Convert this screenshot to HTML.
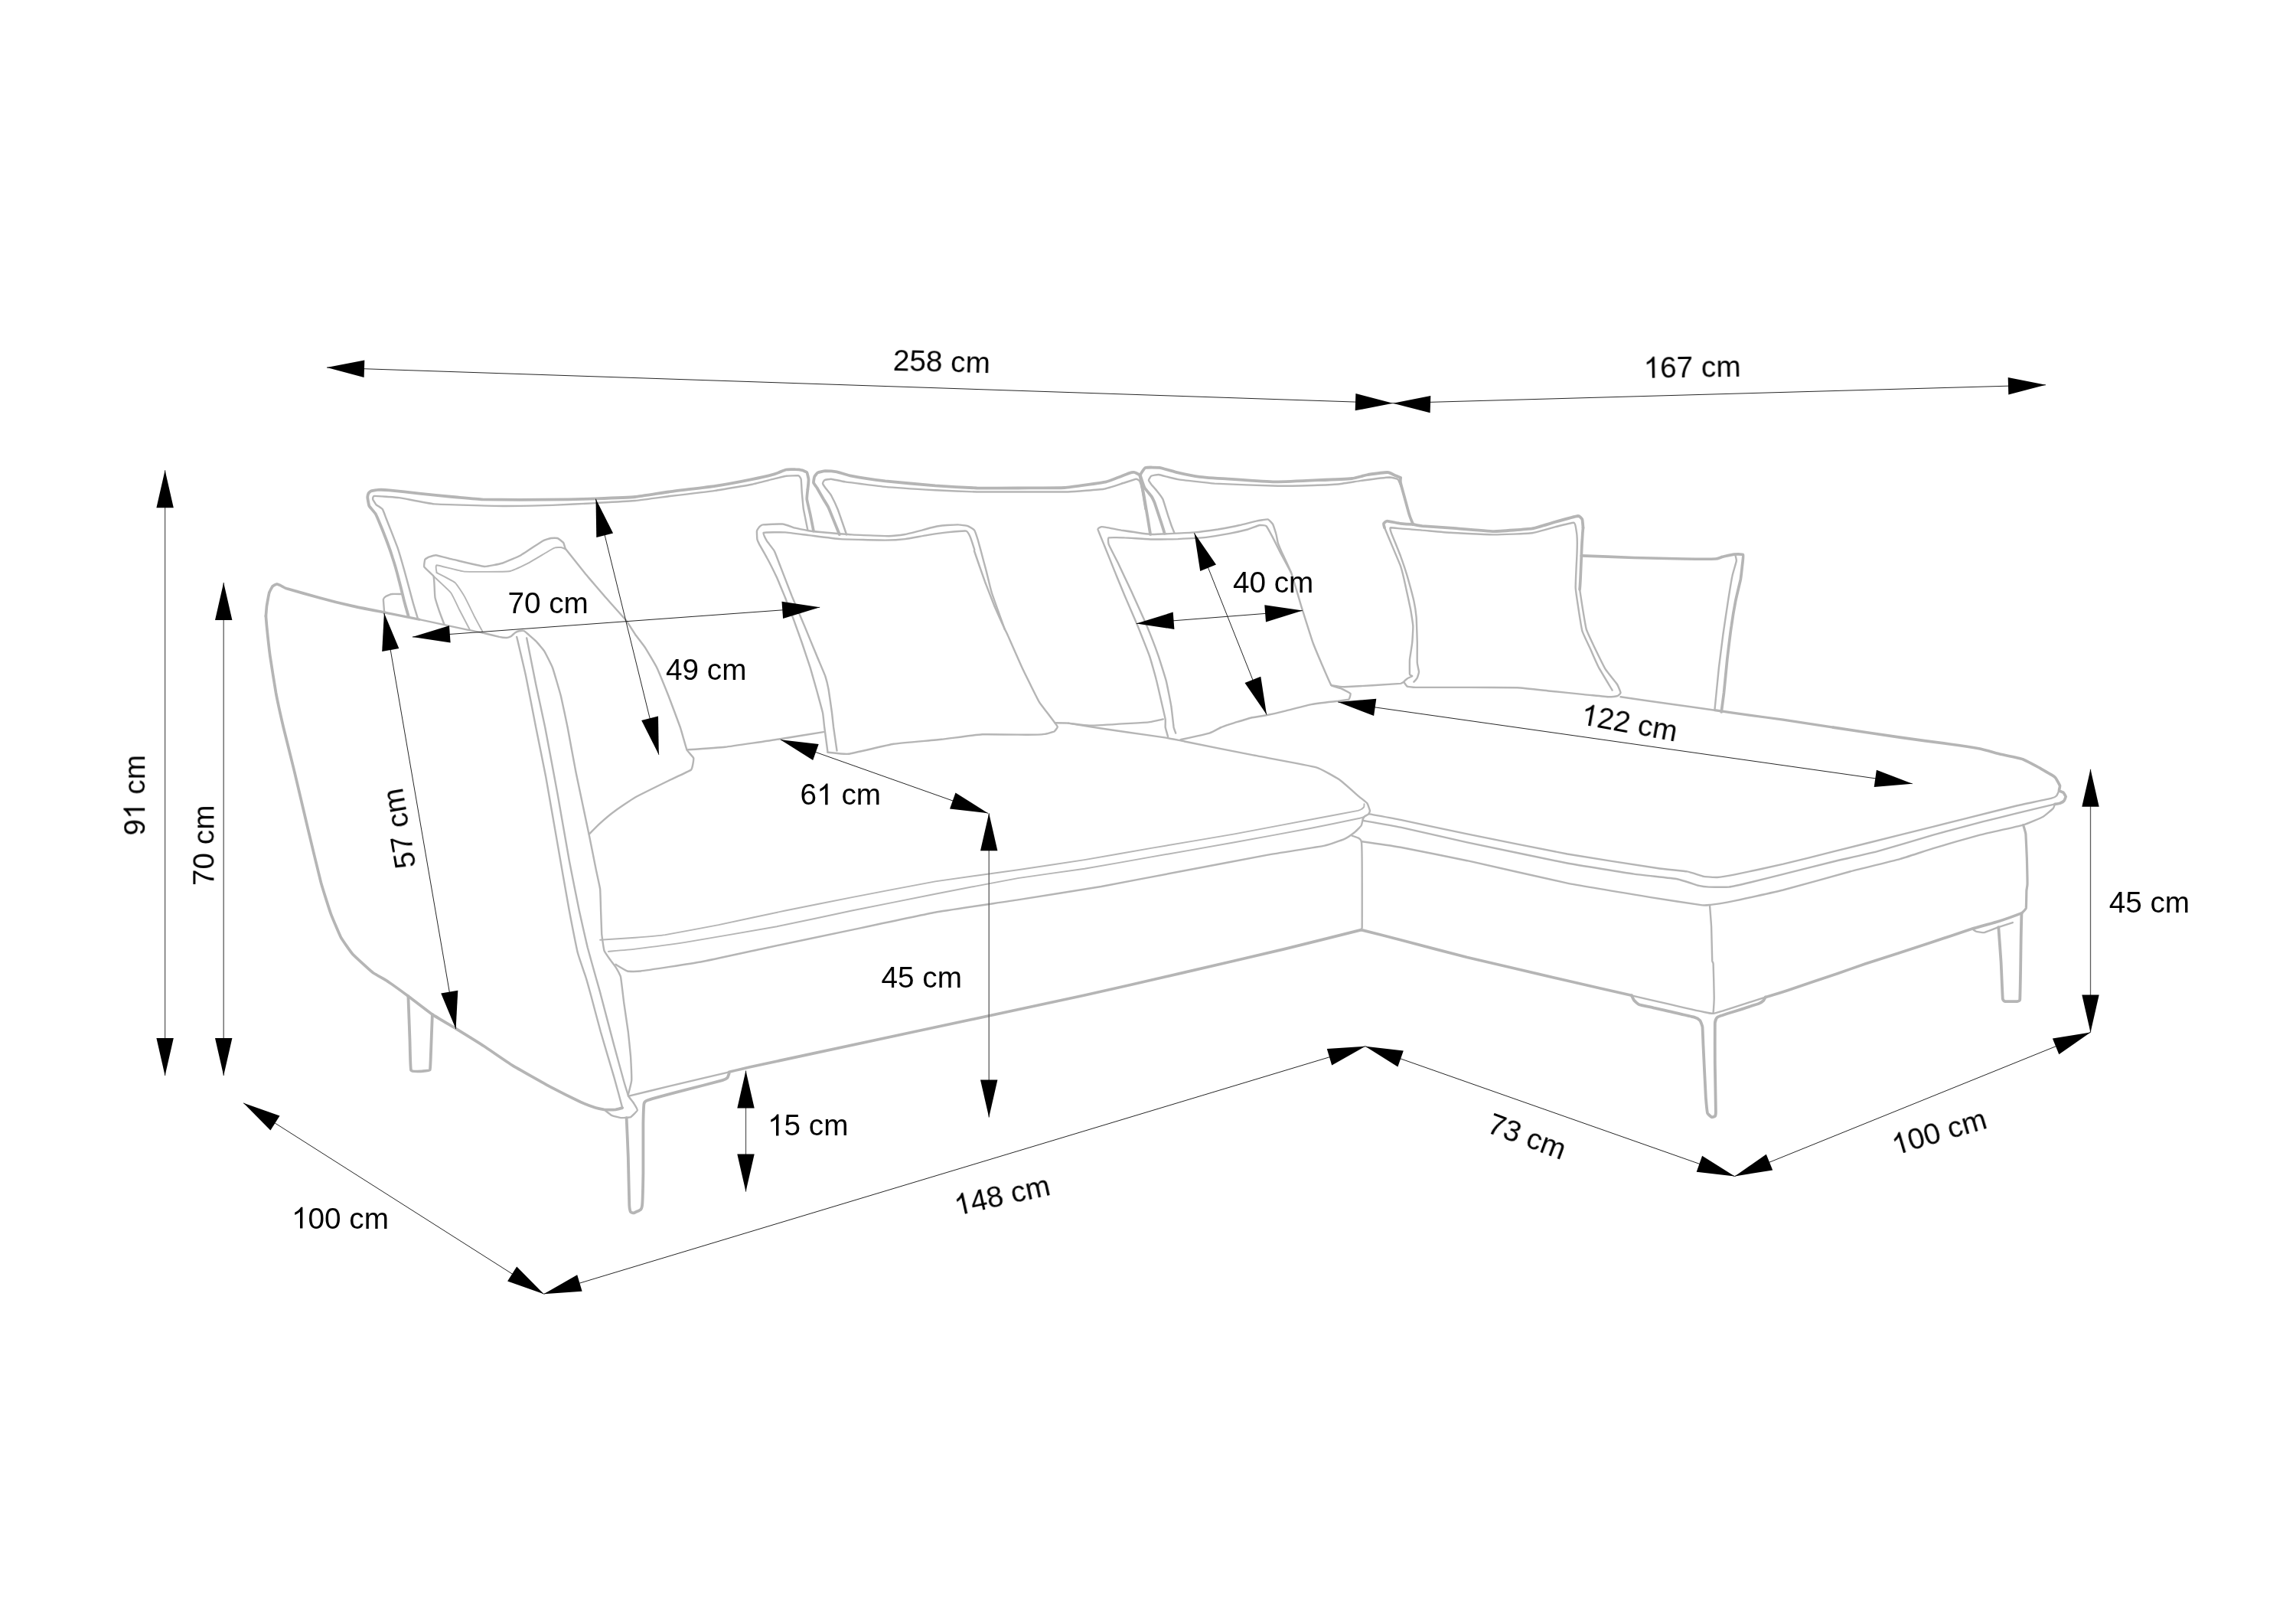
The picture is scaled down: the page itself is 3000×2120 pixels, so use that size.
<!DOCTYPE html>
<html><head><meta charset="utf-8"><title>Sofa dimensions</title>
<style>
html,body{margin:0;padding:0;background:#fff;}
body{width:3000px;height:2120px;overflow:hidden;}
svg{display:block;}
text{font-family:"Liberation Sans",sans-serif;font-size:38.7px;fill:#000;}
</style></head><body>
<svg width="3000" height="2120" viewBox="0 0 3000 2120">
<rect width="3000" height="2120" fill="#fff"/>
<g fill="none" stroke="#b5b5b5" stroke-width="1.9" stroke-linejoin="round" stroke-linecap="round">
<path d="M784.1 1227.7 C786.7 1227.5 825.0 1225.2 830.0 1224.8 C835.0 1224.4 862.8 1222.1 869.2 1221.1 C875.6 1220.1 929.7 1209.9 938.9 1208.1 C948.0 1206.2 1015.8 1191.6 1026.0 1189.5 C1036.2 1187.5 1101.7 1174.3 1113.1 1172.1 C1124.5 1169.9 1209.3 1153.5 1222.0 1151.4 C1234.6 1149.3 1318.6 1137.8 1330.0 1136.2 C1341.4 1134.5 1406.9 1124.8 1417.1 1123.1 C1427.3 1121.5 1492.8 1109.9 1504.2 1107.9 C1515.6 1105.9 1600.4 1091.7 1613.1 1089.4 C1625.8 1087.1 1712.6 1070.5 1722.0 1068.7 C1731.4 1066.9 1770.8 1059.7 1774.3 1058.9 C1777.7 1058.1 1781.4 1055.0 1781.9 1054.5 C1782.4 1054.0 1782.5 1050.4 1782.5 1050.2"/>
<path d="M794.9 1242.9 C797.0 1242.7 824.1 1240.3 830.0 1239.6 C835.9 1238.9 884.5 1232.6 895.3 1230.9 C906.1 1229.2 1002.4 1212.6 1015.1 1210.2 C1027.8 1207.8 1101.0 1192.0 1113.1 1189.5 C1125.2 1187.1 1209.3 1170.2 1222.0 1167.8 C1234.6 1165.3 1318.6 1149.0 1330.0 1147.1 C1341.4 1145.2 1406.9 1136.3 1417.1 1134.7 C1427.3 1133.1 1492.8 1121.4 1504.2 1119.4 C1515.6 1117.4 1600.9 1102.5 1613.1 1100.3 C1625.3 1098.1 1703.9 1083.6 1713.3 1081.8 C1722.7 1079.9 1770.2 1070.2 1774.3 1069.3 C1777.8 1068.6 1782.5 1066.7 1783.0 1066.5"/>
<path d="M570.6 748.1 C570.6 747.5 568.5 738.4 570.6 738.3 C572.7 738.2 601.0 746.1 606.6 746.6 C612.1 747.0 660.5 747.0 665.4 746.3 C670.2 745.7 686.5 737.5 689.3 736.1 C692.1 734.7 711.2 723.2 713.3 722.0 C715.4 720.7 724.1 715.8 725.3 715.4 C726.4 715.0 732.0 714.9 732.9 715.0 C733.7 715.1 739.0 717.4 739.4 717.6"/>
<path d="M566.3 752.4 C567.6 753.7 587.2 771.7 589.1 774.2 C591.1 776.8 598.6 793.1 600.0 796.0 C601.5 798.9 613.4 821.6 614.2 823.2"/>
<path d="M570.6 748.1 C572.0 748.8 592.5 759.4 594.6 761.1 C596.7 762.9 605.1 776.0 606.6 778.6 C608.0 781.1 618.3 802.0 619.6 804.7 C621.0 807.4 629.5 823.2 630.1 824.3"/>
</g>
<g fill="none" stroke="#b5b5b5" stroke-width="2.4" stroke-linejoin="round" stroke-linecap="round">
<path d="M545.6 806.9 C545.2 805.6 539.9 788.3 539.1 785.1 C538.2 781.9 531.5 756.5 530.3 752.4 C529.2 748.4 521.0 719.9 519.5 715.4 C517.9 711.0 505.4 679.1 504.2 676.2 C503.1 673.3 500.6 666.3 499.9 665.3 C499.1 664.3 491.9 659.6 491.1 658.8 C490.4 658.0 487.4 652.9 487.2 652.3 C487.1 651.6 487.1 648.0 489.0 647.9 C491.0 647.8 517.1 649.5 521.6 650.1 C526.2 650.7 559.5 657.7 567.4 658.4 C575.2 659.0 647.6 660.9 656.7 661.0 C665.7 661.1 714.9 660.1 722.0 659.9 C729.1 659.7 772.3 657.4 778.6 657.1 C784.9 656.7 824.5 654.5 830.0 654.0 C835.5 653.5 867.5 649.1 873.6 648.3 C879.7 647.6 928.2 641.9 934.5 640.9 C940.9 640.0 978.0 633.6 982.4 632.7 C986.9 631.8 1008.1 626.3 1010.7 625.7 C1013.4 625.1 1025.2 622.0 1027.1 621.8 C1029.0 621.5 1042.3 621.1 1043.4 621.3 C1044.6 621.6 1046.4 624.8 1046.7 626.1 C1046.9 627.4 1047.6 641.3 1047.8 643.6 C1048.0 645.8 1049.5 662.5 1049.9 665.3 C1050.4 668.2 1055.1 691.0 1055.4 692.6"/>
<path d="M502.0 798.2 C502.0 797.3 500.8 784.0 500.9 782.9 C501.1 781.8 503.6 779.4 504.2 779.0 C504.9 778.6 510.6 776.1 511.8 776.0 C513.0 775.8 524.1 776.0 524.9 776.0"/>
<path d="M547.8 809.1 C549.8 809.5 578.8 815.9 582.6 816.7 C586.4 817.5 610.3 822.6 613.1 823.2 C615.9 823.8 629.5 826.3 630.5 826.5"/>
<path d="M630.5 826.5 C631.8 826.8 650.5 831.5 652.3 831.9 C654.1 832.3 661.2 833.1 662.1 833.0 C663.0 833.0 666.9 831.7 667.5 831.3 C668.2 830.9 672.4 826.9 673.0 826.5 C673.6 826.1 677.7 824.4 678.4 824.3 C679.1 824.2 683.7 823.5 685.0 824.3 C686.2 825.1 698.7 835.8 700.2 837.4 C701.7 838.9 709.8 848.4 711.1 850.4 C712.4 852.5 720.7 868.8 722.0 872.2 C723.3 875.6 731.7 904.7 732.9 909.2 C734.0 913.8 740.4 944.1 741.6 950.0 C742.7 955.8 750.8 1000.5 752.5 1008.8 C754.1 1017.1 768.4 1084.2 769.9 1091.6 C771.4 1098.9 777.8 1131.0 778.6 1135.1 C779.4 1139.2 783.7 1158.1 784.1 1161.2 C784.4 1164.4 785.0 1186.1 785.1 1189.5 C785.3 1193.0 786.0 1217.0 786.2 1220.0 C786.5 1223.1 788.8 1239.8 789.5 1241.8 C790.2 1243.8 797.3 1253.6 798.2 1254.9 C799.1 1256.1 804.0 1262.3 804.7 1263.6 C805.5 1264.8 810.4 1273.4 811.0 1276.1 C811.6 1278.9 814.8 1306.8 815.4 1311.0 C815.9 1315.2 820.3 1343.9 820.8 1348.0 C821.3 1352.1 823.8 1377.0 824.1 1380.7 C824.3 1384.3 825.4 1408.3 825.2 1411.1 C825.0 1414.0 821.1 1428.6 820.8 1429.7"/>
<path d="M675.2 831.9 C675.9 834.9 685.7 876.2 687.1 883.1 C688.6 890.0 698.7 942.2 700.2 950.0 C701.7 957.7 711.6 1006.4 713.3 1015.3 C714.9 1024.2 726.7 1092.3 728.5 1102.4 C730.3 1112.6 742.2 1181.3 743.8 1189.5 C745.3 1197.8 753.4 1238.9 754.7 1244.0 C755.9 1249.1 764.5 1273.4 765.5 1276.7 C766.6 1279.9 770.9 1295.8 772.1 1300.0 C773.2 1304.1 783.1 1341.8 784.9 1348.0 C786.6 1354.2 800.6 1401.0 802.3 1406.8 C804.0 1412.6 812.6 1444.7 813.2 1447.1"/>
<path d="M688.2 833.4 C688.9 837.0 698.8 887.2 700.2 894.0 C701.6 900.8 710.5 941.6 712.2 950.0 C713.8 958.3 726.7 1026.9 728.5 1037.1 C730.4 1047.3 742.1 1115.3 743.8 1124.2 C745.4 1133.1 755.4 1182.9 756.8 1189.5 C758.2 1196.2 766.4 1232.4 767.7 1237.5 C769.0 1242.5 777.6 1273.0 778.6 1276.7 C779.6 1280.3 783.8 1294.8 785.1 1300.0 C786.5 1305.1 800.5 1358.8 802.3 1365.4 C804.1 1372.0 814.3 1409.5 815.4 1413.3 C816.4 1417.1 820.5 1429.7 820.8 1430.7"/>
<path d="M789.2 1449.3 C789.8 1449.7 797.8 1456.2 799.0 1456.9 C800.3 1457.5 809.5 1460.0 811.0 1460.1 C812.5 1460.3 822.8 1459.6 824.1 1459.1 C825.3 1458.5 832.5 1451.4 832.8 1450.3 C833.0 1449.3 829.1 1442.7 828.4 1441.6 C827.8 1440.6 822.3 1433.6 821.9 1432.9 C821.5 1432.2 820.9 1429.9 820.8 1429.7"/>
<path d="M804.5 1259.8 C805.4 1260.3 817.8 1268.0 819.7 1268.5 C821.6 1269.0 831.6 1269.2 837.1 1268.5 C842.7 1267.8 905.8 1258.3 915.5 1256.5 C925.3 1254.7 992.7 1239.9 1004.2 1237.5 C1015.7 1235.0 1100.4 1217.3 1113.1 1214.6 C1125.8 1211.9 1209.3 1194.0 1222.0 1191.7 C1234.6 1189.4 1317.3 1177.4 1330.0 1175.4 C1342.7 1173.4 1426.2 1160.2 1438.9 1158.0 C1451.6 1155.7 1535.1 1139.7 1547.8 1137.3 C1560.5 1134.9 1646.0 1118.5 1656.7 1116.6 C1667.3 1114.7 1724.9 1105.8 1730.7 1104.6 C1736.5 1103.4 1754.5 1096.9 1756.8 1095.9 C1759.1 1094.9 1768.6 1088.2 1769.9 1087.2 C1771.2 1086.2 1778.0 1079.5 1778.6 1078.5 C1779.2 1077.5 1780.7 1070.3 1780.8 1069.8"/>
<path d="M1395.6 944.6 C1397.2 944.9 1418.8 948.4 1423.2 949.1 C1427.6 949.8 1465.7 955.5 1471.5 956.3 C1477.4 957.2 1518.8 962.9 1523.3 963.6 C1527.7 964.3 1541.3 967.2 1547.8 968.5 C1554.3 969.8 1624.8 984.0 1634.9 985.9 C1644.9 987.9 1713.1 1000.4 1719.8 1002.3 C1726.5 1004.2 1747.1 1016.4 1750.3 1018.6 C1753.5 1020.8 1772.2 1037.5 1774.3 1039.3 C1776.3 1041.1 1785.3 1047.9 1786.2 1049.1 C1787.1 1050.2 1789.8 1058.1 1789.9 1058.9 C1790.1 1059.7 1788.8 1062.8 1788.4 1063.2 C1788.0 1063.7 1783.4 1066.1 1783.0 1066.5 C1782.5 1066.9 1780.9 1069.6 1780.8 1069.8"/>
<path d="M580.4 815.6 C580.1 814.6 574.6 800.2 573.9 798.2 C573.2 796.1 568.8 782.9 568.5 780.7 C568.1 778.6 567.5 762.8 567.4 761.1 C567.2 759.5 567.0 753.6 566.3 752.4 C565.5 751.2 554.9 741.7 554.3 740.5 C553.7 739.2 555.0 731.4 555.4 730.7 C555.8 729.9 560.0 727.7 560.8 727.4 C561.7 727.1 567.8 725.0 569.5 725.2 C571.3 725.4 587.6 729.8 591.3 730.7 C595.0 731.5 628.9 739.7 632.7 740.0 C636.5 740.3 653.9 736.3 656.7 735.5 C659.4 734.6 677.6 726.9 680.6 725.2 C683.7 723.5 706.6 708.0 708.9 706.7 C711.2 705.4 718.7 703.2 719.8 703.0 C721.0 702.8 727.6 702.7 728.5 703.0 C729.5 703.3 735.6 708.2 736.1 708.9 C736.7 709.6 738.1 714.9 738.3 715.4 C738.5 715.9 738.8 716.8 739.4 717.6 C741.0 719.6 762.5 746.6 765.5 750.3 C768.6 753.9 788.6 777.3 791.7 780.7 C794.7 784.2 815.6 807.4 817.8 810.1 C820.0 812.9 828.5 826.6 830.0 828.7 C831.5 830.8 841.4 843.5 843.1 846.1 C844.7 848.6 856.5 868.5 858.3 872.2 C860.1 875.9 871.8 904.7 873.6 909.2 C875.3 913.8 887.4 945.9 888.8 950.0 C890.2 954.0 896.5 977.0 897.5 979.4 C898.5 981.8 905.9 988.8 906.2 990.3 C906.5 991.8 904.9 1003.8 903.0 1005.5 C901.0 1007.2 877.8 1017.6 873.6 1019.7 C869.3 1021.8 834.1 1039.1 830.0 1041.5 C825.9 1043.8 805.3 1057.9 802.6 1060.0 C799.8 1062.0 784.9 1074.6 783.0 1076.3 C781.1 1078.0 770.7 1088.6 769.9 1089.4"/>
<path d="M897.5 979.4 C900.4 979.2 940.5 976.5 947.6 975.7 C954.7 974.9 1012.0 966.4 1019.5 965.2 C1027.0 964.1 1072.8 956.6 1076.1 956.1"/>
<path d="M1081.5 982.7 C1081.3 980.8 1077.6 953.0 1077.2 950.0 C1076.8 947.0 1075.6 933.8 1075.0 931.0 C1074.4 928.3 1068.3 906.1 1067.4 902.7 C1066.4 899.3 1059.8 875.9 1058.7 872.2 C1057.5 868.5 1049.0 843.2 1047.8 839.5 C1046.5 835.9 1038.2 812.5 1036.9 809.1 C1035.6 805.6 1027.3 783.9 1026.0 780.7 C1024.7 777.6 1016.5 757.7 1015.1 754.6 C1013.7 751.6 1003.4 731.0 1002.0 728.5 C1000.7 725.9 993.0 712.5 992.2 711.1 C991.5 709.7 989.6 705.5 989.4 704.5 C989.2 703.5 988.8 694.6 989.0 693.6 C989.1 692.7 991.8 688.7 992.2 688.2 C992.7 687.7 994.8 685.6 996.6 685.4 C998.4 685.1 1020.2 684.2 1022.7 684.5 C1025.2 684.7 1037.1 689.2 1039.1 689.7 C1041.0 690.2 1054.1 692.8 1056.5 693.2 C1058.9 693.6 1077.1 695.5 1080.4 695.8 C1083.7 696.1 1108.4 698.2 1113.1 698.4 C1117.8 698.7 1156.9 700.2 1161.0 700.2 C1165.1 700.1 1180.2 698.4 1182.8 698.0 C1185.3 697.6 1202.2 693.2 1204.6 692.6 C1207.0 691.9 1222.3 687.9 1224.2 687.5 C1226.1 687.2 1235.6 686.1 1237.2 686.0 C1238.9 685.9 1250.9 685.3 1252.5 685.4 C1254.1 685.4 1263.2 686.7 1264.5 687.1 C1265.7 687.5 1272.4 691.5 1273.2 692.6 C1273.9 693.6 1277.0 702.9 1277.5 704.5 C1278.0 706.1 1281.1 717.6 1281.8 720.0 C1282.4 722.4 1287.8 742.8 1288.7 745.9 C1289.5 749.0 1294.5 770.2 1295.6 773.5 C1296.6 776.8 1304.9 800.0 1305.9 802.8 C1306.9 805.6 1312.4 820.7 1312.8 821.8"/>
<path d="M1312.8 821.8 C1313.0 822.2 1315.0 825.9 1316.3 828.7 C1317.7 831.8 1334.5 870.1 1337.0 875.3 C1339.4 880.4 1355.8 913.4 1357.7 916.7 C1359.5 919.9 1366.8 928.9 1368.0 930.5 C1369.2 932.1 1377.6 943.2 1378.4 944.3 C1379.2 945.4 1381.9 948.8 1381.8 949.4 C1381.8 950.1 1378.5 954.9 1377.5 955.5 C1376.5 956.0 1366.6 958.7 1364.6 958.9 C1362.5 959.2 1346.9 959.8 1342.1 959.8 C1337.4 959.8 1290.0 958.9 1283.5 959.3 C1276.9 959.6 1236.8 965.1 1230.0 965.8 C1223.2 966.6 1174.6 970.7 1167.5 971.8 C1160.5 972.9 1113.8 984.2 1108.7 984.8 C1103.7 985.5 1083.1 982.8 1081.5 982.7"/>
<path d="M1093.5 980.5 C1093.2 978.7 1089.5 952.9 1089.1 950.0 C1088.8 947.1 1087.3 933.9 1087.0 931.0 C1086.6 928.1 1083.1 903.3 1082.6 900.5 C1082.1 897.7 1079.1 885.6 1078.3 883.1 C1077.4 880.6 1068.9 860.7 1067.4 857.0 C1065.8 853.3 1054.0 824.5 1052.1 819.9 C1050.2 815.4 1036.6 783.3 1034.7 778.6 C1032.8 773.9 1020.8 742.8 1019.5 739.4 C1018.1 735.9 1012.9 721.7 1011.8 719.8 C1010.8 717.9 1002.9 708.1 1002.0 706.7 C1001.2 705.3 996.3 696.5 997.7 695.8 C999.1 695.2 1022.6 695.2 1026.0 695.4 C1029.4 695.6 1052.3 698.6 1056.5 699.1 C1060.7 699.6 1092.0 703.7 1097.9 704.1 C1103.7 704.5 1151.7 705.6 1156.7 705.6 C1161.6 705.6 1179.6 704.5 1182.8 704.1 C1186.0 703.7 1207.9 699.6 1211.1 699.1 C1214.3 698.6 1234.2 695.7 1237.2 695.4 C1240.2 695.1 1260.5 693.3 1262.3 693.6 C1264.1 694.0 1267.1 699.9 1267.7 701.3 C1268.4 702.7 1272.8 716.5 1273.2 717.6 C1273.4 718.5 1272.8 719.1 1273.1 720.0 C1273.9 722.5 1285.4 755.6 1286.9 759.7 C1288.4 763.8 1297.5 787.1 1299.0 790.7 C1300.5 794.4 1312.0 820.0 1312.8 821.8"/>
<path d="M1106.1 698.4 C1105.5 696.5 1095.8 668.3 1094.6 665.3 C1093.4 662.3 1086.8 648.5 1085.9 646.8 C1084.9 645.2 1078.9 637.9 1078.3 637.0 C1077.6 636.1 1075.1 632.1 1075.0 631.6 C1074.9 631.0 1076.5 627.6 1077.2 627.2 C1077.8 626.9 1084.3 625.6 1085.9 625.7 C1087.5 625.8 1100.3 628.8 1104.4 629.4 C1108.5 630.0 1149.8 635.3 1156.7 635.9 C1163.5 636.6 1215.0 639.9 1222.0 640.3 C1229.0 640.7 1270.1 642.3 1276.4 642.5 C1282.7 642.6 1323.1 642.5 1330.0 642.5 C1336.9 642.5 1388.8 642.7 1395.3 642.5 C1401.9 642.2 1437.8 639.5 1442.2 638.8 C1446.5 638.1 1466.9 631.2 1469.4 630.5 C1471.8 629.7 1483.5 625.8 1484.6 625.7 C1485.8 625.6 1488.5 627.5 1489.0 628.3 C1489.4 629.1 1491.8 637.0 1492.2 639.2 C1492.7 641.4 1496.3 663.8 1496.6 665.3"/>
<path d="M1378.4 944.3 C1379.4 944.3 1393.0 944.4 1395.6 944.6 C1398.2 944.8 1418.8 947.7 1423.2 947.7 C1427.6 947.7 1467.0 945.4 1471.5 945.1 C1476.0 944.9 1498.0 943.7 1500.8 943.4 C1503.7 943.1 1518.7 939.7 1519.8 939.4"/>
<path d="M1534.3 695.8 C1533.8 694.7 1527.9 678.8 1527.1 676.2 C1526.2 673.7 1520.3 654.3 1519.5 652.3 C1518.6 650.2 1512.7 642.5 1511.8 641.4 C1510.9 640.2 1504.9 633.5 1504.2 632.7 C1503.6 631.8 1500.9 627.9 1500.9 627.2 C1500.9 626.6 1503.5 622.2 1504.2 621.8 C1505.0 621.4 1512.0 619.8 1514.0 620.0 C1516.0 620.3 1534.8 625.5 1539.1 626.1 C1543.3 626.8 1579.3 631.1 1587.0 631.6 C1594.6 632.1 1661.8 634.7 1669.7 634.8 C1677.6 635.0 1717.3 633.9 1722.0 633.8 C1726.7 633.6 1746.7 632.6 1750.3 632.2 C1753.9 631.8 1779.2 627.7 1783.0 627.2 C1786.8 626.7 1813.1 623.6 1815.6 623.5 C1818.2 623.5 1825.6 625.2 1826.5 626.1 C1827.5 627.0 1831.8 638.4 1832.2 639.2"/>
<path d="M1739.4 895.1 C1740.4 895.2 1751.5 897.4 1756.8 897.3 C1762.1 897.1 1825.5 893.3 1830.0 892.9 C1831.9 892.7 1834.1 890.9 1834.4 890.7"/>
<path d="M1526.0 962.0 C1525.8 961.3 1522.9 951.3 1522.7 950.0 C1522.5 948.7 1523.0 941.7 1522.7 939.7 C1522.4 937.7 1518.0 918.8 1517.3 915.8 C1516.6 912.7 1511.6 890.9 1510.7 887.5 C1509.9 884.0 1503.5 861.2 1502.0 857.0 C1500.6 852.8 1487.5 819.9 1485.7 815.6 C1483.9 811.3 1473.3 787.0 1471.6 782.9 C1469.8 778.9 1458.0 750.0 1456.3 745.9 C1454.7 741.8 1444.5 716.4 1443.2 713.2 C1442.0 710.1 1434.8 692.9 1434.5 691.5 C1434.3 690.0 1438.2 688.3 1438.9 688.2 C1439.5 688.0 1443.9 688.6 1445.4 688.9 C1446.9 689.1 1461.6 692.0 1465.0 692.6 C1468.4 693.1 1498.6 697.8 1504.2 698.0 C1509.8 698.2 1555.8 695.8 1560.8 695.4 C1565.9 695.0 1587.9 692.0 1591.3 691.5 C1594.8 690.9 1616.7 686.7 1619.6 686.0 C1622.6 685.4 1639.3 681.0 1641.4 680.6 C1643.6 680.1 1655.4 678.1 1656.7 678.4 C1657.9 678.7 1662.6 683.8 1663.2 684.9 C1663.8 686.1 1667.2 696.6 1667.5 698.0 C1667.9 699.4 1669.3 707.6 1669.7 708.9 C1670.1 710.2 1673.1 717.5 1674.1 719.8 C1675.1 722.1 1685.6 743.9 1687.1 748.1 C1688.7 752.3 1698.6 786.3 1700.2 791.6 C1701.9 797.0 1713.9 835.2 1715.5 839.5 C1717.0 843.9 1724.9 862.4 1726.3 865.7 C1727.7 868.9 1737.9 893.1 1739.4 895.1 C1740.9 897.0 1751.0 898.8 1752.5 899.4 C1753.9 900.1 1763.9 905.1 1764.5 906.0 C1765.0 906.8 1763.2 913.0 1762.3 913.6 C1761.3 914.2 1751.0 915.4 1748.1 915.8 C1745.3 916.1 1717.3 919.4 1713.3 920.1 C1709.2 920.9 1681.9 928.0 1678.4 928.8 C1675.0 929.7 1657.0 933.8 1654.5 934.3 C1651.9 934.8 1637.3 937.0 1634.9 937.5 C1632.5 938.1 1615.4 943.4 1613.1 944.1 C1610.8 944.8 1597.6 949.2 1595.7 950.0 C1593.8 950.7 1583.5 956.7 1580.4 957.6 C1577.3 958.6 1544.5 965.8 1542.3 966.3"/>
<path d="M1536.2 957.6 C1536.1 957.2 1534.0 952.1 1533.6 950.0 C1533.3 947.9 1530.9 925.8 1530.3 922.3 C1529.8 918.8 1524.8 893.6 1523.8 889.6 C1522.8 885.7 1514.5 859.1 1512.9 854.8 C1511.4 850.5 1499.7 820.4 1497.7 815.6 C1495.7 810.8 1480.2 776.7 1478.1 772.0 C1475.9 767.3 1462.4 738.6 1460.7 735.0 C1458.9 731.5 1449.4 713.0 1448.7 711.1 C1448.0 709.2 1447.5 702.9 1448.7 702.4 C1449.9 701.8 1466.1 702.2 1469.4 702.4 C1472.6 702.5 1500.2 704.4 1504.2 704.5 C1508.3 704.6 1534.9 704.2 1539.1 704.1 C1543.3 703.9 1572.1 702.3 1576.1 701.9 C1580.0 701.5 1603.4 697.5 1606.6 696.9 C1609.7 696.3 1628.2 692.1 1630.5 691.5 C1632.8 690.8 1644.4 686.3 1645.8 686.0 C1647.2 685.8 1653.5 686.2 1654.5 687.1 C1655.5 688.1 1662.1 700.3 1663.2 702.4 C1664.3 704.4 1671.6 719.3 1673.0 722.0 C1674.4 724.6 1686.3 746.6 1687.1 748.1"/>
<path d="M1848.5 897.9 C1847.9 897.8 1839.5 897.0 1838.7 896.6 C1837.9 896.2 1834.4 891.3 1834.4 890.7 C1834.4 890.1 1838.1 886.8 1838.7 886.4 C1839.3 885.9 1845.1 883.4 1845.2 883.1 C1845.4 882.8 1842.2 882.2 1842.0 880.9 C1841.8 879.7 1841.8 863.7 1842.0 861.3 C1842.2 858.9 1845.0 842.1 1845.2 839.5 C1845.5 837.0 1846.5 820.3 1846.3 817.8 C1846.2 815.2 1843.6 799.0 1843.1 796.0 C1842.5 792.9 1837.3 768.8 1836.5 765.5 C1835.8 762.2 1831.0 742.3 1830.0 739.4 C1829.0 736.5 1821.2 718.3 1820.0 715.4 C1818.8 712.5 1809.7 690.8 1809.1 689.3"/>
<path d="M2064.1 769.9 C2064.3 771.1 2066.9 788.6 2067.4 791.6 C2067.9 794.7 2071.9 819.1 2072.8 822.1 C2073.7 825.2 2081.2 840.9 2082.6 843.9 C2084.1 847.0 2096.1 871.5 2097.9 874.4 C2099.6 877.3 2112.0 892.2 2113.1 894.0 C2114.2 895.8 2117.5 904.0 2117.5 904.9 C2117.5 905.8 2114.0 908.9 2113.1 909.2 C2112.2 909.6 2104.8 910.4 2102.2 910.3 C2099.7 910.2 2074.0 907.5 2069.5 907.1 C2065.1 906.6 2031.1 903.2 2026.0 902.7 C2020.9 902.2 1988.8 898.6 1982.4 898.3 C1976.1 898.1 1924.9 897.9 1917.1 897.9 C1909.3 897.9 1852.5 897.9 1848.5 897.9"/>
<path d="M1847.4 890.7 C1847.7 890.4 1851.4 886.0 1851.8 885.3 C1852.2 884.5 1854.0 878.8 1854.0 877.7 C1854.0 876.5 1851.9 867.9 1851.8 865.7 C1851.6 863.5 1851.8 843.0 1851.8 839.5 C1851.7 836.1 1850.9 810.1 1850.7 806.9 C1850.4 803.7 1848.1 788.3 1847.4 785.1 C1846.7 781.9 1839.7 755.9 1838.7 752.4 C1837.7 749.0 1831.2 729.6 1830.0 726.3 C1828.8 723.0 1818.6 698.0 1817.8 695.8 C1817.0 693.7 1816.0 689.6 1816.7 689.3 C1817.4 689.0 1827.6 690.2 1830.0 690.4 C1832.4 690.6 1854.5 692.2 1858.3 692.6 C1862.1 692.9 1889.9 695.5 1895.3 695.8 C1900.8 696.2 1945.7 698.4 1952.0 698.4 C1958.2 698.5 1997.3 696.9 2002.0 696.3 C2006.7 695.7 2029.4 689.0 2032.5 688.2 C2035.7 687.4 2054.9 682.4 2056.5 682.8 C2058.1 683.1 2059.5 692.1 2059.7 693.6 C2060.0 695.2 2060.8 706.2 2060.8 708.9 C2060.8 711.6 2059.9 735.9 2059.7 739.4 C2059.6 742.8 2058.5 764.6 2058.7 767.7 C2058.8 770.7 2061.4 788.3 2061.9 791.6 C2062.4 794.9 2066.4 821.0 2067.4 824.3 C2068.3 827.6 2077.0 845.5 2078.3 848.3 C2079.5 851.1 2087.5 869.1 2089.1 872.2 C2090.8 875.3 2105.6 899.9 2106.6 901.6"/>
<path d="M2267.7 726.3 C2267.8 726.7 2269.1 731.3 2268.8 732.8 C2268.6 734.4 2264.0 749.4 2263.4 752.4 C2262.7 755.5 2258.6 780.7 2257.9 785.1 C2257.2 789.6 2252.1 823.6 2251.4 828.7 C2250.7 833.7 2246.6 866.5 2245.9 872.2 C2245.3 877.9 2240.8 923.5 2240.5 926.7"/>
<path d="M2117.5 910.3 C2121.0 910.8 2171.3 918.0 2178.4 919.0 C2185.6 920.0 2236.9 927.2 2240.5 927.7"/>
<path d="M2690.4 1032.9 C2690.2 1033.3 2687.7 1038.9 2687.1 1039.5 C2686.6 1040.0 2683.4 1042.0 2680.6 1042.7 C2677.6 1043.5 2641.4 1051.0 2634.9 1052.5 C2628.4 1054.1 2578.4 1066.6 2569.5 1068.9 C2560.7 1071.1 2492.6 1088.1 2482.4 1090.6 C2472.3 1093.2 2404.2 1110.2 2395.3 1112.4 C2386.4 1114.6 2337.6 1127.0 2330.0 1128.7 C2322.4 1130.5 2270.6 1141.7 2265.5 1142.7 C2260.5 1143.7 2246.0 1145.9 2243.8 1146.0 C2241.5 1146.1 2228.6 1145.3 2226.3 1144.9 C2224.1 1144.5 2208.1 1139.0 2204.6 1138.4 C2201.0 1137.7 2174.5 1135.3 2165.4 1134.0 C2156.2 1132.7 2062.3 1118.1 2047.8 1115.5 C2033.3 1112.9 1929.8 1092.0 1917.1 1089.4 C1904.4 1086.8 1837.5 1072.4 1830.0 1070.9 C1822.5 1069.3 1790.8 1063.7 1788.4 1063.2"/>
<path d="M2685.0 1050.3 C2682.0 1051.0 2640.3 1061.0 2634.9 1062.3 C2629.4 1063.7 2597.7 1071.6 2591.3 1073.2 C2585.0 1074.9 2534.1 1088.3 2526.0 1090.6 C2517.9 1092.9 2459.6 1110.4 2452.0 1112.4 C2444.3 1114.4 2402.4 1123.8 2395.3 1125.5 C2388.2 1127.2 2336.3 1140.2 2330.0 1141.8 C2323.7 1143.4 2291.5 1151.5 2287.3 1152.5 C2283.2 1153.5 2262.2 1158.3 2259.0 1158.6 C2255.8 1159.0 2235.2 1158.7 2232.9 1158.6 C2230.6 1158.5 2222.2 1157.5 2219.8 1156.9 C2217.4 1156.3 2196.5 1149.1 2191.5 1148.2 C2186.5 1147.3 2143.3 1142.8 2134.9 1141.6 C2126.5 1140.4 2060.5 1129.9 2047.8 1127.5 C2035.1 1125.1 1929.8 1103.0 1917.1 1100.3 C1904.4 1097.5 1837.9 1082.3 1830.0 1080.7 C1822.1 1079.0 1784.7 1072.5 1781.9 1072.0"/>
<path d="M2685.0 1050.3 C2684.8 1050.7 2683.7 1054.8 2682.8 1055.8 C2681.9 1056.7 2672.0 1065.4 2669.7 1066.7 C2667.4 1068.0 2648.4 1076.2 2643.6 1077.6 C2638.8 1079.0 2593.8 1088.9 2587.0 1090.6 C2580.1 1092.4 2532.1 1106.2 2526.0 1108.1 C2519.9 1109.9 2488.8 1120.4 2482.4 1122.2 C2476.1 1124.0 2426.0 1136.2 2417.1 1138.5 C2408.2 1140.9 2339.3 1160.2 2330.0 1162.5 C2320.7 1164.8 2262.4 1177.5 2256.8 1178.7 C2251.3 1179.8 2237.0 1181.7 2235.1 1181.9 C2233.1 1182.1 2228.5 1182.9 2224.2 1182.4 C2219.6 1181.8 2166.9 1173.8 2156.7 1172.1 C2146.4 1170.4 2061.7 1156.4 2047.8 1153.6 C2033.8 1150.8 1929.8 1126.9 1917.1 1124.2 C1904.4 1121.5 1838.0 1108.3 1830.0 1106.8 C1822.0 1105.3 1782.6 1099.6 1779.7 1099.2"/>
<path d="M2234.0 1182.4 C2234.1 1184.1 2236.0 1207.1 2236.1 1211.3 C2236.3 1215.6 2237.1 1252.1 2237.2 1254.9 C2237.3 1256.6 2238.5 1257.2 2238.6 1258.9 C2238.8 1261.7 2239.7 1298.7 2239.7 1302.4 C2239.7 1306.2 2238.7 1321.9 2238.6 1323.1"/>
<path d="M1766.6 1091.6 C1767.1 1091.7 1774.6 1094.3 1775.3 1094.8 C1776.1 1095.3 1778.8 1097.6 1779.0 1100.3 C1779.3 1103.2 1779.7 1139.5 1779.7 1146.0 C1779.7 1152.5 1779.8 1207.3 1779.7 1211.3 C1779.7 1212.7 1778.7 1214.4 1778.6 1214.6"/>
<path d="M820.8 1431.8 C823.8 1431.1 864.3 1421.3 872.0 1419.4 C879.7 1417.6 947.9 1401.4 952.6 1400.3"/>
<path d="M2131.9 1300.3 C2134.9 1301.0 2177.6 1311.0 2183.1 1312.2 C2188.6 1313.5 2223.4 1321.4 2226.7 1322.0 C2229.9 1322.7 2237.1 1323.9 2238.6 1323.8 C2240.2 1323.7 2248.8 1321.1 2252.8 1319.9 C2256.8 1318.6 2304.1 1303.5 2307.2 1302.4"/>
<path d="M2576.5 1213.3 C2576.8 1213.5 2581.0 1216.3 2581.9 1216.6 C2582.9 1216.9 2591.1 1218.4 2592.8 1218.1 C2594.5 1217.8 2609.2 1211.9 2611.3 1211.1 C2613.5 1210.4 2628.8 1205.4 2629.8 1205.1"/>
</g>
<g fill="none" stroke="#b5b5b5" stroke-width="3.2" stroke-linejoin="round" stroke-linecap="round">
<path d="M502.0 799.9 L547.8 809.1"/>
<path d="M2240.5 927.7 C2243.2 928.1 2282.1 933.6 2287.3 934.3 C2292.5 935.0 2323.7 939.2 2330.0 940.2 C2336.3 941.1 2391.5 949.6 2395.3 950.2"/>
<path d="M2643.6 1077.6 C2643.8 1078.3 2646.6 1086.9 2646.9 1089.5 C2647.1 1092.2 2648.3 1118.4 2648.4 1122.2 C2648.5 1126.0 2649.1 1152.5 2649.0 1154.9 C2649.0 1157.3 2648.0 1161.4 2647.9 1163.2 C2647.8 1165.1 2647.6 1184.4 2647.3 1186.1 C2646.9 1187.8 2642.1 1192.3 2641.8 1192.6"/>
</g>
<g fill="none" stroke="#b5b5b5" stroke-width="3.7" stroke-linejoin="round" stroke-linecap="round">
<path d="M1055.4 639.2 C1055.3 640.0 1054.1 650.4 1054.3 652.3 C1054.5 654.2 1058.2 669.5 1058.7 671.9 C1059.2 674.3 1062.8 692.4 1063.0 693.6"/>
<path d="M347.4 804.7 C347.5 803.9 348.3 793.4 348.5 791.6 C348.8 789.9 351.3 775.7 351.8 774.2 C352.2 772.7 355.6 766.6 356.1 765.9 C356.7 765.3 361.0 763.0 361.6 762.9 C362.1 762.8 365.2 764.1 365.9 764.4 C366.7 764.8 371.7 767.8 374.6 768.8 C377.6 769.7 412.1 779.4 417.1 780.7 C422.1 782.1 455.7 790.5 460.7 791.6 C465.6 792.8 499.6 799.4 502.0 799.9"/>
<path d="M347.4 804.7 C347.5 805.5 348.2 814.7 348.5 817.8 C348.8 820.8 352.2 851.9 352.9 857.0 C353.6 862.0 359.5 899.5 360.5 904.9 C361.5 910.3 368.9 944.0 370.3 950.0 C371.7 955.9 382.6 999.0 384.4 1006.6 C386.3 1014.2 399.8 1072.2 401.9 1080.7 C403.9 1089.2 417.5 1145.9 419.3 1152.5 C421.1 1159.1 430.8 1189.7 432.4 1193.9 C433.9 1198.1 443.8 1221.3 445.4 1224.4 C447.1 1227.4 458.2 1243.5 460.7 1246.2 C463.1 1248.8 484.1 1268.1 486.8 1270.1 C489.4 1272.2 503.4 1279.8 506.1 1281.6 C508.8 1283.4 529.9 1298.6 533.4 1301.2 C536.8 1303.7 561.2 1322.6 564.9 1325.1 C568.6 1327.6 592.6 1341.7 596.5 1344.1 C600.4 1346.5 628.2 1363.7 632.4 1366.5 C636.7 1369.3 664.4 1388.4 669.5 1391.6 C674.5 1394.7 714.3 1417.1 719.5 1419.9 C724.8 1422.7 755.3 1437.9 758.7 1439.5 C762.2 1441.0 776.6 1446.5 778.3 1447.1 C780.1 1447.7 787.7 1449.1 789.2 1449.3 C790.8 1449.4 803.1 1449.4 804.5 1449.3 C805.9 1449.1 812.7 1447.2 813.2 1447.1"/>
<path d="M1830.0 624.0 C1830.0 624.3 1829.6 628.7 1830.0 630.5 C1830.4 632.3 1835.8 651.9 1836.5 654.4 C1837.2 657.0 1841.4 672.3 1842.0 674.0 C1842.5 675.8 1846.1 684.3 1846.3 684.9"/>
<path d="M1809.1 689.3 C1809.0 689.0 1807.8 684.3 1808.0 683.8 C1808.2 683.3 1811.1 680.6 1812.4 680.6 C1813.6 680.6 1828.0 683.6 1830.0 683.8 C1832.0 684.1 1845.4 684.9 1846.3 684.9"/>
<path d="M2068.5 689.3 C2068.4 690.2 2067.5 702.4 2067.4 704.5 C2067.2 706.7 2066.4 723.5 2066.3 726.3 C2066.2 729.1 2065.3 749.9 2065.2 752.4 C2065.1 755.0 2064.2 768.8 2064.1 769.9"/>
<path d="M2066.3 725.9 C2070.3 726.0 2127.1 728.2 2134.9 728.5 C2142.7 728.7 2194.0 729.9 2200.2 730.0 C2206.4 730.1 2238.7 730.2 2241.6 730.0 C2244.5 729.9 2248.9 727.7 2250.3 727.4 C2251.7 727.1 2264.0 724.3 2265.5 724.1 C2267.1 724.0 2276.9 723.7 2277.5 724.6 C2278.2 725.5 2276.6 737.5 2276.4 739.4 C2276.2 741.3 2274.8 754.1 2274.3 756.8 C2273.7 759.5 2268.4 781.5 2267.7 785.1 C2267.0 788.7 2262.9 813.3 2262.3 817.8 C2261.6 822.2 2257.4 856.2 2256.8 861.3 C2256.3 866.4 2252.9 900.9 2252.5 904.9 C2252.0 908.9 2249.4 928.5 2249.2 929.9"/>
<path d="M2395.3 950.2 C2400.4 950.9 2473.5 962.0 2482.4 963.2 C2491.3 964.5 2541.7 971.1 2547.8 972.0 C2553.9 972.8 2583.2 977.3 2587.0 978.0 C2590.8 978.8 2609.9 984.2 2613.1 985.0 C2616.3 985.8 2639.3 990.4 2642.5 991.6 C2645.7 992.7 2665.1 1003.2 2667.5 1004.6 C2670.0 1006.0 2683.6 1013.8 2685.0 1015.1 C2686.4 1016.3 2691.2 1025.4 2691.5 1026.4 C2691.8 1027.4 2690.2 1032.4 2690.4 1032.9 C2690.7 1033.4 2695.3 1034.7 2695.9 1035.1 C2696.4 1035.5 2699.1 1039.9 2699.1 1040.5 C2699.2 1041.2 2697.4 1045.5 2696.9 1046.0 C2696.5 1046.5 2692.2 1049.0 2691.5 1049.3 C2690.8 1049.5 2685.3 1050.3 2685.0 1050.3"/>
</g>
<g fill="none" stroke="#b5b5b5" stroke-width="3.7" stroke-linejoin="round" stroke-linecap="round">
<path d="M952.6 1400.3 C954.2 1399.9 969.0 1396.1 980.0 1393.7 C1007.1 1387.9 1384.0 1307.2 1417.1 1300.0 C1450.2 1292.7 1532.5 1273.6 1547.8 1270.1 C1563.0 1266.6 1665.0 1242.9 1678.4 1239.6 C1691.9 1236.4 1772.8 1216.1 1778.6 1214.6"/>
<path d="M1778.6 1214.6 C1781.6 1215.4 1821.9 1225.6 1830.0 1227.7 C1838.1 1229.8 1904.4 1247.4 1917.1 1250.5 C1929.8 1253.6 2035.2 1278.1 2047.8 1281.0 C2060.3 1283.9 2127.0 1299.1 2131.9 1300.3"/>
<path d="M2307.2 1302.4 C2308.9 1301.9 2330.1 1295.5 2335.5 1293.7 C2341.0 1291.9 2394.1 1274.0 2400.0 1272.0 C2405.9 1269.9 2429.9 1261.5 2437.1 1259.1 C2444.4 1256.7 2516.1 1233.4 2524.2 1230.7 C2532.3 1228.1 2571.4 1214.9 2576.5 1213.3 C2581.6 1211.7 2607.5 1204.7 2611.3 1203.5 C2615.1 1202.3 2640.0 1193.3 2641.8 1192.6"/>
</g>
<g fill="none" stroke="#b5b5b5" stroke-width="3.8" stroke-linejoin="round" stroke-linecap="round">
<path d="M533.6 804.7 C533.4 803.8 529.7 791.1 529.3 789.5 C528.8 787.8 526.4 778.2 526.0 776.4 C525.5 774.6 522.4 761.8 521.6 759.0 C520.9 756.2 514.1 732.0 512.9 728.5 C511.8 724.9 503.3 701.3 502.0 698.0 C500.8 694.7 492.3 674.0 491.1 671.9 C490.0 669.7 483.1 662.2 482.4 661.0 C481.8 659.7 480.3 651.0 480.3 650.1 C480.2 649.1 481.1 645.2 481.4 644.6 C481.6 644.1 483.9 641.7 484.6 641.4 C485.3 641.1 491.9 639.9 493.3 639.9 C494.7 639.8 505.4 640.0 508.6 640.3 C511.7 640.6 542.9 644.1 547.8 644.6 C552.6 645.2 586.5 648.6 591.3 649.0 C596.2 649.4 625.4 652.0 630.5 652.3 C635.6 652.5 671.8 652.9 678.4 652.9 C685.0 652.9 737.9 652.4 743.8 652.3 C749.6 652.2 773.6 651.6 778.6 651.4 C783.6 651.2 824.5 649.5 830.0 649.0 C835.5 648.5 867.5 643.3 873.6 642.5 C879.7 641.6 928.2 635.8 934.5 634.8 C940.9 633.9 978.0 627.0 982.4 626.1 C986.9 625.2 1008.1 620.3 1010.7 619.6 C1013.4 618.9 1025.4 613.9 1027.1 613.5 C1028.7 613.1 1037.9 613.0 1039.1 613.1 C1040.3 613.1 1046.9 613.9 1047.8 614.2 C1048.7 614.4 1053.8 616.3 1054.3 617.0 C1054.8 617.7 1056.4 624.8 1056.5 626.1 C1056.5 627.4 1055.5 638.4 1055.4 639.2"/>
<path d="M533.4 1301.2 C533.5 1304.5 535.3 1353.2 535.5 1358.9 C535.7 1364.5 536.1 1395.7 537.1 1398.1 C538.0 1400.4 550.4 1399.2 551.9 1399.2 C553.3 1399.1 561.0 1398.7 561.7 1397.6 C562.3 1396.6 562.6 1384.9 562.8 1380.7 C562.9 1376.4 564.8 1328.4 564.9 1325.1"/>
<path d="M952.6 1402.4 C952.4 1402.8 950.9 1407.4 950.4 1407.9 C949.9 1408.4 946.7 1410.3 943.9 1411.1 C940.5 1412.1 899.5 1422.7 893.8 1424.2 C888.0 1425.7 848.9 1436.3 845.9 1437.3 C843.5 1438.1 841.8 1439.9 841.5 1441.6 C841.2 1443.4 840.5 1462.4 840.4 1467.8 C840.3 1473.1 840.5 1527.0 840.4 1533.1 C840.3 1539.2 839.5 1569.6 839.3 1572.3 C839.1 1575.0 837.8 1579.2 837.1 1579.9 C836.5 1580.6 829.2 1584.1 828.4 1584.3 C827.7 1584.5 824.4 1583.8 824.1 1583.2 C823.7 1582.6 822.5 1578.0 822.3 1574.5 C822.1 1570.3 821.0 1518.0 820.8 1511.3 C820.6 1504.7 818.8 1463.1 818.6 1460.1"/>
<path d="M1096.8 698.0 C1095.9 696.0 1083.8 665.8 1082.6 663.2 C1081.4 660.5 1077.0 653.8 1076.1 652.3 C1075.2 650.7 1068.1 638.3 1067.4 637.0 C1066.6 635.8 1063.2 631.3 1063.0 630.5 C1062.8 629.7 1063.8 623.6 1064.1 622.9 C1064.4 622.1 1067.6 617.9 1068.5 617.4 C1069.3 617.0 1076.8 615.3 1078.3 615.2 C1079.7 615.2 1091.6 616.0 1093.5 616.3 C1095.4 616.7 1107.2 620.6 1110.9 621.3 C1114.6 622.0 1150.2 627.5 1156.7 628.3 C1163.1 629.1 1215.0 633.9 1222.0 634.4 C1229.0 634.9 1270.1 637.3 1276.4 637.5 C1282.7 637.6 1323.3 637.5 1330.0 637.5 C1336.7 637.4 1384.2 637.5 1391.0 637.0 C1397.7 636.6 1440.5 630.5 1445.4 629.4 C1450.4 628.3 1473.7 618.6 1475.9 617.9 C1478.1 617.1 1481.7 616.8 1482.4 617.0 C1483.2 617.2 1488.4 619.6 1489.0 620.7 C1489.5 621.7 1491.9 633.0 1492.2 634.8 C1492.6 636.7 1495.1 649.7 1495.5 652.3 C1495.9 654.8 1499.4 675.7 1499.9 678.4 C1500.3 681.1 1502.9 696.9 1503.1 698.0"/>
<path d="M1521.6 696.9 C1521.3 695.7 1515.9 678.6 1515.1 676.2 C1514.3 673.9 1509.2 658.3 1508.6 656.6 C1507.9 655.0 1505.0 649.1 1504.2 647.9 C1503.5 646.8 1496.3 638.6 1495.5 637.0 C1494.7 635.4 1490.0 622.2 1490.1 620.7 C1490.1 619.2 1495.1 611.5 1496.6 610.9 C1498.1 610.3 1512.6 610.5 1515.1 610.9 C1517.6 611.3 1536.0 616.7 1539.1 617.4 C1542.1 618.1 1563.1 622.4 1567.4 622.9 C1571.7 623.4 1607.4 625.8 1613.1 626.1 C1618.8 626.5 1659.0 629.3 1665.4 629.4 C1671.7 629.5 1716.1 627.5 1722.0 627.2 C1727.9 627.0 1762.8 625.5 1766.6 625.0 C1770.4 624.6 1784.6 620.5 1787.3 620.0 C1790.0 619.6 1811.4 616.9 1813.4 617.0 C1815.5 617.0 1821.2 620.3 1822.2 620.7 C1823.1 621.1 1829.5 623.8 1830.0 624.0"/>
<path d="M1846.3 684.9 C1847.0 685.1 1855.5 686.8 1858.3 687.1 C1861.2 687.4 1889.9 689.3 1895.3 689.7 C1900.8 690.1 1945.7 694.0 1952.0 694.1 C1958.2 694.1 1997.3 691.1 2002.0 690.4 C2006.7 689.7 2029.0 682.6 2032.5 681.7 C2036.0 680.7 2059.9 674.2 2061.9 674.0 C2064.0 673.9 2067.0 677.5 2067.4 678.4 C2067.8 679.3 2068.4 688.7 2068.5 689.3"/>
<path d="M2131.9 1300.3 C2132.1 1300.6 2134.6 1306.1 2135.2 1306.8 C2135.8 1307.5 2140.2 1311.7 2141.7 1312.2 C2143.2 1312.8 2157.1 1315.6 2161.3 1316.6 C2165.5 1317.5 2210.1 1327.6 2213.6 1328.6 C2217.0 1329.5 2220.6 1332.2 2221.2 1332.9 C2221.8 1333.7 2224.2 1339.6 2224.5 1341.6 C2224.7 1343.7 2225.3 1362.4 2225.6 1367.8 C2225.8 1373.1 2228.5 1428.1 2228.8 1433.1 C2229.2 1438.1 2230.6 1452.3 2231.0 1453.8 C2231.5 1455.3 2235.9 1459.0 2236.5 1459.2 C2237.0 1459.5 2240.5 1458.5 2240.8 1458.1 C2241.1 1457.8 2241.9 1454.9 2241.9 1452.7 C2241.9 1448.7 2240.9 1396.3 2240.8 1389.5 C2240.7 1382.8 2240.7 1340.8 2240.8 1337.3 C2240.9 1334.1 2242.5 1330.3 2243.0 1329.7 C2243.4 1329.1 2246.1 1327.6 2248.4 1326.8 C2251.7 1325.7 2295.3 1311.9 2298.5 1310.7 C2301.0 1309.9 2303.5 1307.7 2304.0 1307.2 C2304.4 1306.7 2306.6 1302.7 2306.8 1302.4"/>
<path d="M2611.3 1211.1 C2611.5 1213.8 2614.3 1251.4 2614.6 1256.9 C2614.9 1262.3 2616.5 1301.8 2616.8 1304.8 C2617.0 1306.6 2619.0 1307.9 2620.0 1308.1 C2621.1 1308.2 2634.2 1308.2 2635.3 1308.1 C2636.4 1307.9 2639.0 1307.7 2639.2 1305.9 C2639.5 1303.5 2640.0 1272.5 2640.1 1267.8 C2640.2 1263.0 2640.6 1228.5 2640.7 1224.2 C2640.8 1219.9 2641.3 1195.5 2641.4 1193.7"/>
</g>
<g stroke="#1a1a1a" stroke-width="0.95" fill="none">
<path d="M427.0 480.1 L1820.0 526.7"/>
<path d="M1820.0 526.7 L2673.0 502.8"/>
<path stroke="#5c5c5c" stroke-width="1.3" d="M215.6 614.3 L215.6 1405.0"/>
<path stroke="#5c5c5c" stroke-width="1.3" d="M292.2 761.0 L292.2 1405.0"/>
<path d="M501.9 800.7 L595.6 1344.0"/>
<path d="M538.9 832.0 L1071.2 793.3"/>
<path d="M778.5 651.7 L860.8 985.8"/>
<path d="M1019.8 966.2 L1290.9 1062.3"/>
<path stroke="#5c5c5c" stroke-width="1.3" d="M1292.2 1062.3 L1292.2 1459.5"/>
<path stroke="#5c5c5c" stroke-width="1.3" d="M974.5 1398.5 L974.5 1556.6"/>
<path d="M1484.7 814.6 L1702.0 797.6"/>
<path d="M1560.5 696.2 L1655.0 933.5"/>
<path d="M1748.2 917.0 L2498.8 1023.7"/>
<path stroke="#5c5c5c" stroke-width="1.3" d="M2731.5 1004.8 L2731.5 1348.4"/>
<path d="M318.1 1440.8 L710.5 1690.2"/>
<path d="M710.5 1690.2 L1783.9 1366.7"/>
<path d="M1783.9 1366.7 L2266.6 1536.5"/>
<path d="M2266.6 1536.5 L2731.5 1348.4"/>
</g>
<g fill="#000" stroke="none">
<path d="M427.0 480.1 L475.6 492.9 L476.3 470.5 Z"/>
<path d="M1820.0 526.7 L1771.4 513.9 L1770.7 536.3 Z"/>
<path d="M1820.0 526.7 L1868.6 539.3 L1869.3 517.0 Z"/>
<path d="M2673.0 502.8 L2623.7 493.0 L2624.3 515.4 Z"/>
<path d="M215.6 614.3 L204.4 663.3 L226.8 663.3 Z"/>
<path d="M215.6 1405.0 L226.8 1356.0 L204.4 1356.0 Z"/>
<path d="M292.2 761.0 L281.0 810.0 L303.4 810.0 Z"/>
<path d="M292.2 1405.0 L303.4 1356.0 L281.0 1356.0 Z"/>
<path d="M501.9 800.7 L499.2 850.9 L521.3 847.1 Z"/>
<path d="M595.6 1344.0 L598.3 1293.8 L576.2 1297.6 Z"/>
<path d="M538.9 832.0 L588.6 839.6 L587.0 817.3 Z"/>
<path d="M1071.2 793.3 L1021.5 785.7 L1023.1 808.0 Z"/>
<path d="M778.5 651.7 L779.3 702.0 L801.1 696.6 Z"/>
<path d="M860.8 985.8 L860.0 935.5 L838.2 940.9 Z"/>
<path d="M1019.8 966.2 L1062.2 993.1 L1069.7 972.0 Z"/>
<path d="M1290.9 1062.3 L1248.5 1035.4 L1241.0 1056.5 Z"/>
<path d="M1292.2 1062.3 L1281.0 1111.3 L1303.4 1111.3 Z"/>
<path d="M1292.2 1459.5 L1303.4 1410.5 L1281.0 1410.5 Z"/>
<path d="M974.5 1398.5 L963.3 1447.5 L985.7 1447.5 Z"/>
<path d="M974.5 1556.6 L985.7 1507.6 L963.3 1507.6 Z"/>
<path d="M1484.7 814.6 L1534.4 821.9 L1532.7 799.6 Z"/>
<path d="M1702.0 797.6 L1652.3 790.3 L1654.0 812.6 Z"/>
<path d="M1560.5 696.2 L1568.2 745.9 L1589.0 737.6 Z"/>
<path d="M1655.0 933.5 L1647.3 883.8 L1626.5 892.1 Z"/>
<path d="M1748.2 917.0 L1795.1 935.0 L1798.3 912.8 Z"/>
<path d="M2498.8 1023.7 L2451.9 1005.7 L2448.7 1027.9 Z"/>
<path d="M2731.5 1004.8 L2720.3 1053.8 L2742.7 1053.8 Z"/>
<path d="M2731.5 1348.4 L2742.7 1299.4 L2720.3 1299.4 Z"/>
<path d="M318.1 1440.8 L353.4 1476.5 L365.5 1457.6 Z"/>
<path d="M710.5 1690.2 L675.2 1654.5 L663.1 1673.4 Z"/>
<path d="M710.5 1690.2 L760.6 1686.8 L754.2 1665.3 Z"/>
<path d="M1783.9 1366.7 L1733.8 1370.1 L1740.2 1391.6 Z"/>
<path d="M1783.9 1366.7 L1826.4 1393.5 L1833.8 1372.4 Z"/>
<path d="M2266.6 1536.5 L2224.1 1509.7 L2216.7 1530.8 Z"/>
<path d="M2266.6 1536.5 L2316.2 1528.5 L2307.8 1507.7 Z"/>
<path d="M2731.5 1348.4 L2681.9 1356.4 L2690.3 1377.2 Z"/>
</g>
<g opacity="0.999">
<g transform="translate(1166.6 483.9) rotate(1.50)"><text x="0.00 21.52 43.05 75.32 94.67" y="0">258cm</text></g>
<g transform="translate(2147.8 493.8) rotate(-0.90)"><text x="21.52 43.05 75.32 94.67" y="0">67cm</text><path fill="#000" transform="translate(0.00 0) scale(0.01890 -0.01890)" d="M763 0H583V1147Q518 1085 412.5 1023Q307 961 223 930V1104Q374 1175 487 1276Q600 1377 647 1472H763Z"/></g>
<g transform="translate(189.2 1091.5) rotate(-90.00)"><text x="0.00 53.80 73.15" y="0">9cm</text><path fill="#000" transform="translate(21.52 0) scale(0.01890 -0.01890)" d="M763 0H583V1147Q518 1085 412.5 1023Q307 961 223 930V1104Q374 1175 487 1276Q600 1377 647 1472H763Z"/></g>
<g transform="translate(279.4 1157.0) rotate(-90.00)"><text x="0.00 21.52 53.80 73.15" y="0">70cm</text></g>
<g transform="translate(543.7 1131.9) rotate(-99.80)"><text x="0.00 21.52 53.80 73.15" y="0">57cm</text></g>
<g transform="translate(663.4 801.0) rotate(0.00)"><text x="0.00 21.52 53.80 73.15" y="0">70cm</text></g>
<g transform="translate(870.0 887.5) rotate(0.00)"><text x="0.00 21.52 53.80 73.15" y="0">49cm</text></g>
<g transform="translate(1045.6 1051.3) rotate(0.00)"><text x="0.00 53.80 73.15" y="0">6cm</text><path fill="#000" transform="translate(21.52 0) scale(0.01890 -0.01890)" d="M763 0H583V1147Q518 1085 412.5 1023Q307 961 223 930V1104Q374 1175 487 1276Q600 1377 647 1472H763Z"/></g>
<g transform="translate(1151.5 1289.7) rotate(0.00)"><text x="0.00 21.52 53.80 73.15" y="0">45cm</text></g>
<g transform="translate(1003.0 1483.4) rotate(0.00)"><text x="21.52 53.80 73.15" y="0">5cm</text><path fill="#000" transform="translate(0.00 0) scale(0.01890 -0.01890)" d="M763 0H583V1147Q518 1085 412.5 1023Q307 961 223 930V1104Q374 1175 487 1276Q600 1377 647 1472H763Z"/></g>
<g transform="translate(1610.9 774.2) rotate(0.00)"><text x="0.00 21.52 53.80 73.15" y="0">40cm</text></g>
<g transform="translate(2064.2 945.8) rotate(10.40)"><text x="21.52 43.05 75.32 94.67" y="0">22cm</text><path fill="#000" transform="translate(0.00 0) scale(0.01890 -0.01890)" d="M763 0H583V1147Q518 1085 412.5 1023Q307 961 223 930V1104Q374 1175 487 1276Q600 1377 647 1472H763Z"/></g>
<g transform="translate(2755.7 1191.6) rotate(0.00)"><text x="0.00 21.52 53.80 73.15" y="0">45cm</text></g>
<g transform="translate(381.0 1604.5) rotate(0.00)"><text x="21.52 43.05 75.32 94.67" y="0">00cm</text><path fill="#000" transform="translate(0.00 0) scale(0.01890 -0.01890)" d="M763 0H583V1147Q518 1085 412.5 1023Q307 961 223 930V1104Q374 1175 487 1276Q600 1377 647 1472H763Z"/></g>
<g transform="translate(1250.2 1588.0) rotate(-12.50)"><text x="21.52 43.05 75.32 94.67" y="0">48cm</text><path fill="#000" transform="translate(0.00 0) scale(0.01890 -0.01890)" d="M763 0H583V1147Q518 1085 412.5 1023Q307 961 223 930V1104Q374 1175 487 1276Q600 1377 647 1472H763Z"/></g>
<g transform="translate(1941.3 1478.5) rotate(20.40)"><text x="0.00 21.52 53.80 73.15" y="0">73cm</text></g>
<g transform="translate(2476.5 1509.2) rotate(-16.50)"><text x="21.52 43.05 75.32 94.67" y="0">00cm</text><path fill="#000" transform="translate(0.00 0) scale(0.01890 -0.01890)" d="M763 0H583V1147Q518 1085 412.5 1023Q307 961 223 930V1104Q374 1175 487 1276Q600 1377 647 1472H763Z"/></g>
</g>
</svg>
</body></html>
